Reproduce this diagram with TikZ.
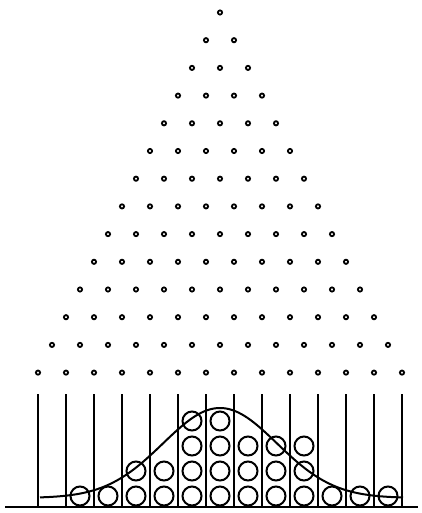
\documentclass[tikz,border=0pt]{standalone}
\begin{document}
\begin{tikzpicture}[x=1pt,y=-1pt,
  peg/.style={line width=1.8pt},
  wall/.style={line width=2pt},
  ball/.style={line width=2pt},
  curve/.style={line width=2pt}]
\useasboundingbox (0,0) rectangle (422,513);
% pegs
\foreach \i in {1,...,14}{
  \pgfmathsetmacro{\yy}{12.5+(\i-1)*27.7}
  \foreach \j in {1,...,\i}{
    \pgfmathsetmacro{\xx}{220+(\j-1-(\i-1)/2)*28}
    \draw[peg] (\xx,\yy) circle (2.1);
  }
}
% walls
\foreach \k in {0,...,13}{
  \draw[wall] ({38+\k*28},394) -- ({38+\k*28},507);
}
\draw[wall] (5,507) -- (418,507);
% balls
\foreach \b/\n in {1/1,2/1,3/2,4/2,5/4,6/4,7/3,8/3,9/3,10/1,11/1,12/1}{
  \foreach \m in {1,...,\n}{
    \pgfmathsetmacro{\bx}{52+\b*28}
    \pgfmathsetmacro{\by}{496-(\m-1)*25}
    \draw[ball] (\bx,\by) circle (9.5);
  }
}
% curve
\draw[curve] plot[domain=40:403,samples=120,smooth] (\x,{498-90*exp(-0.5*((\x-220)/57)^2)});
\end{tikzpicture}
\end{document}
